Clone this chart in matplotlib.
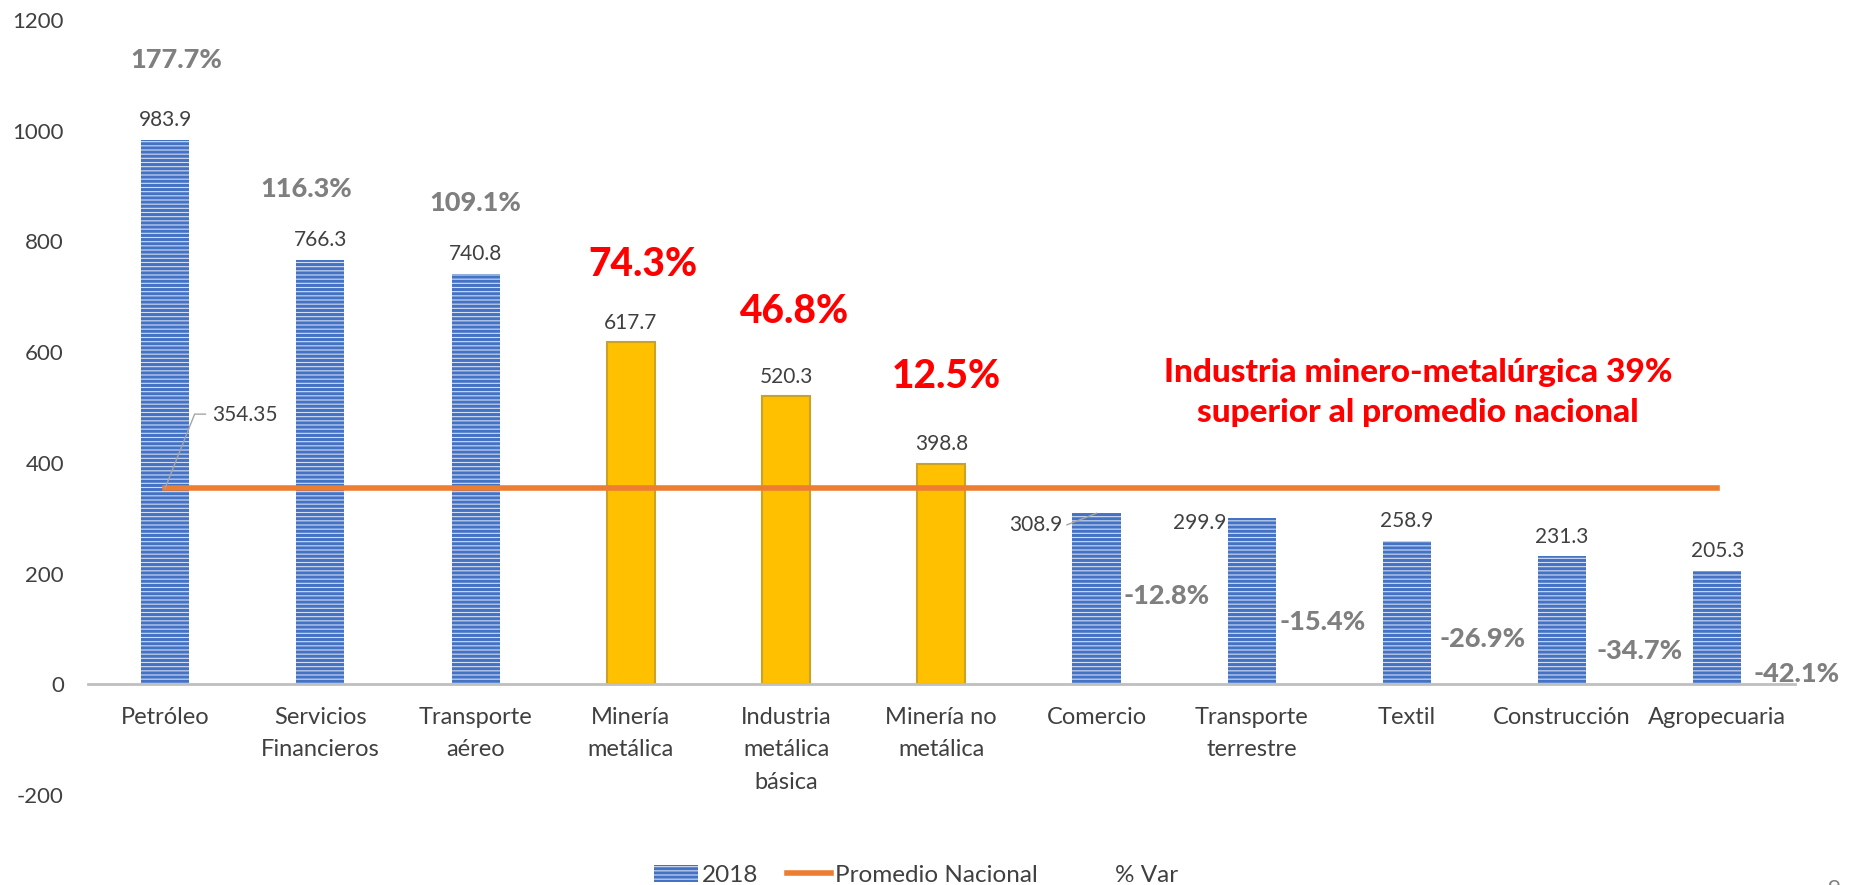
import numpy as np
import matplotlib.pyplot as plt
from matplotlib.patches import Patch
from matplotlib.lines import Line2D

plt.rcParams['font.family'] = ['Lato', 'DejaVu Sans']
plt.rcParams['hatch.linewidth'] = 2.2
plt.rcParams['axes.unicode_minus'] = False

categorias = ["Petróleo", "Servicios\nFinancieros", "Transporte\naéreo", "Minería\nmetálica",
              "Industria\nmetálica\nbásica", "Minería no\nmetálica", "Comercio", "Transporte\nterrestre",
              "Textil", "Construcción", "Agropecuaria"]
valores_2018 = [983.9, 766.3, 740.8, 617.7, 520.3, 398.8, 308.9, 299.9, 258.9, 231.3, 205.3]
var_pct = [177.7, 116.3, 109.1, 74.3, 46.8, 12.5, -12.8, -15.4, -26.9, -34.7, -42.1]
promedio = 354.35
destacados = [3, 4, 5]  # sector minero-metalúrgico

# where the % labels sit (hand placed in the original)
pct_x = [0.07, 0.91, 2.0, 3.08, 4.05, 5.03, 6.45, 7.46, 8.49, 9.5, 10.51]
pct_y = [1127, 894, 870, 759, 674, 556, 160, 113, 81, 60, 18]

azul = '#4472C4'
oro = '#FFC000'
naranja = '#ED7D31'
gris = '#7F7F7F'
texto = '#404040'

fig = plt.figure(figsize=(18.62, 8.85), dpi=100)
ax = fig.add_axes([0.047, 0.1017, 0.917, 0.8757])
for s in ['top', 'right', 'left']:
    ax.spines[s].set_visible(False)
ax.spines['bottom'].set_position(('data', 0))
ax.spines['bottom'].set_color('#BFBFBF')
ax.spines['bottom'].set_linewidth(2)

x = np.arange(len(categorias))
for i, v in enumerate(valores_2018):
    if i in destacados:
        ax.bar(x[i], v, width=0.31, color=oro, edgecolor='#C9A227', linewidth=1.5, zorder=2)
    else:
        ax.bar(x[i], v, width=0.31, facecolor='#d3def3', edgecolor=azul, hatch='----',
               linewidth=0, zorder=2)

ax.plot(x, [promedio] * len(x), color=naranja, lw=4, zorder=3)

# value labels
for i, v in enumerate(valores_2018):
    if i == 6:
        ax.plot([x[i], x[i] - 0.19], [v, 288], color='#A6A6A6', lw=1, zorder=4)
        ax.text(x[i] - 0.22, 288, f"{v:.1f}", ha='right', va='center', fontsize=15, color=texto)
    elif i == 7:
        ax.text(x[i] - 0.16, 292, f"{v:.1f}", ha='right', va='center', fontsize=15, color=texto)
    else:
        ax.annotate(f"{v:.1f}", (x[i], v), xytext=(0, 7), textcoords='offset points',
                    ha='center', va='bottom', fontsize=15, color=texto)

# average label with leader
ax.plot([0, 0.19, 0.26], [promedio, 488, 488], color='#A6A6A6', lw=1, zorder=4)
ax.text(0.30, 486, f"{promedio:.2f}", ha='left', va='center', fontsize=15, color=texto)

# % variation labels
for i, p in enumerate(var_pct):
    if i in destacados:
        ax.text(pct_x[i], pct_y[i], f"{p:.1f}%", ha='center', va='center', fontsize=28,
                fontweight='black', color='#FF0000')
    else:
        ax.text(pct_x[i], pct_y[i], f"{p:.1f}%", ha='center', va='center', fontsize=19.5,
                fontweight='black', color=gris)

ax.text(8.07, 527, "Industria minero-metalúrgica 39%\nsuperior al promedio nacional",
        ha='center', va='center', fontsize=24, fontweight='black', color='#FF0000', linespacing=1.45)

ax.set_xlim(-0.5, 10.5)
ax.set_ylim(-200, 1200)
ax.set_yticks(np.arange(-200, 1201, 200))
ax.set_xticks(x)
ax.set_xticklabels(categorias, fontsize=17, color=texto, linespacing=1.7)
ax.tick_params(axis='y', length=0, pad=17, labelsize=16, labelcolor=texto)
ax.tick_params(axis='x', length=0, pad=16)

handles = [Patch(facecolor='#d3def3', edgecolor=azul, hatch='----', linewidth=0),
           Line2D([], [], color=naranja, lw=4),
           Line2D([], [], ls='none')]
fig.legend(handles, ['2018', 'Promedio Nacional', '% Var'], loc='center', ncol=3,
           bbox_to_anchor=(0.492, 0.011), frameon=False, fontsize=17.5, handlelength=1.8,
           handletextpad=0.17, columnspacing=1.2, labelcolor=texto)

fig.text(0.985, -0.004, '9', fontsize=16, color=gris, ha='center', va='center')

fig.savefig('out.png', dpi=100)
